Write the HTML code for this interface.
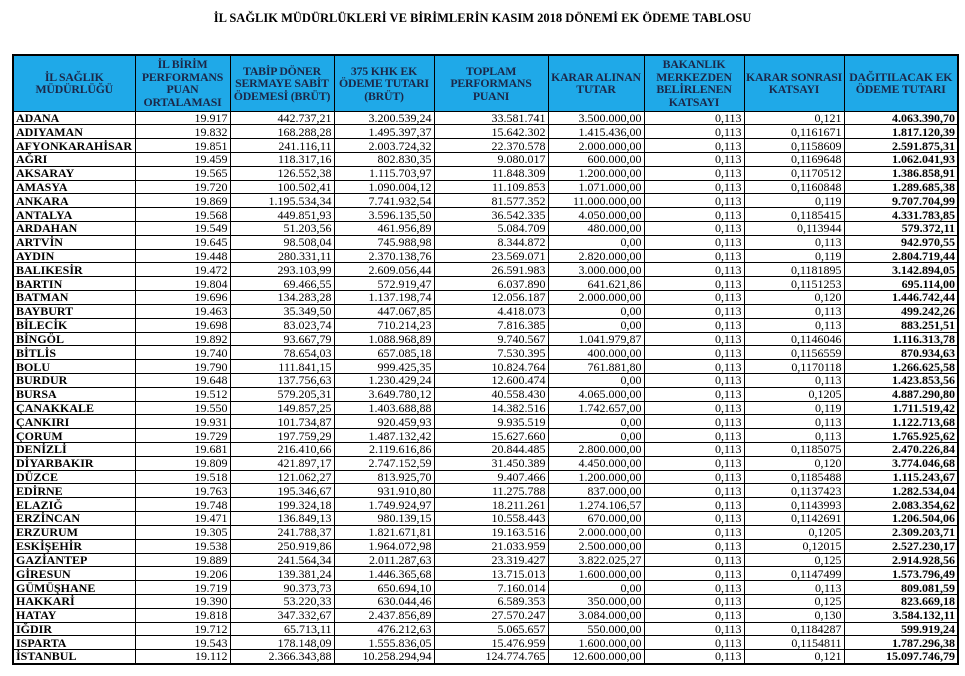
<!DOCTYPE html><html><head><meta charset="utf-8"><style>
body{margin:0;background:#fff;width:965px;height:676px;overflow:hidden;font-family:"Liberation Serif",serif}
h1{position:absolute;left:0;top:11px;width:965px;margin:0;text-align:center;font-size:12.5px;font-weight:bold}
table{position:absolute;left:12px;top:54px;border-collapse:collapse;table-layout:fixed;border:2px solid #000}
td,th{border:1px solid #000;padding:0 2px;font-size:12px;line-height:12px;white-space:nowrap;overflow:hidden}
tr.h{height:56px}
tr{height:13.82px}
th{background:#1fa9e8;color:#1b2748;font-size:11.8px;line-height:12.5px;font-weight:bold;white-space:normal;padding:0;letter-spacing:-0.2px}
td{text-align:right}
td:first-child{text-align:left;font-weight:bold}
td:last-child{font-weight:bold}
</style></head><body>
<h1>İL SAĞLIK MÜDÜRLÜKLERİ VE BİRİMLERİN KASIM 2018 DÖNEMİ EK ÖDEME TABLOSU</h1>
<table>
<colgroup><col style="width:122px"><col style="width:95px"><col style="width:104px"><col style="width:100px"><col style="width:114px"><col style="width:96px"><col style="width:100px"><col style="width:100px"><col style="width:114px"></colgroup>
<tr class="h"><th>İL SAĞLIK MÜDÜRLÜĞÜ</th><th>İL BİRİM PERFORMANS PUAN ORTALAMASI</th><th>TABİP DÖNER SERMAYE SABİT ÖDEMESİ (BRÜT)</th><th>375 KHK EK ÖDEME TUTARI (BRÜT)</th><th>TOPLAM PERFORMANS PUANI</th><th>KARAR ALINAN TUTAR</th><th>BAKANLIK MERKEZDEN BELİRLENEN KATSAYI</th><th><span style="white-space:nowrap">KARAR SONRASI</span><br>KATSAYI</th><th>DAĞITILACAK EK ÖDEME TUTARI</th></tr>
<tr><td>ADANA</td><td>19.917</td><td>442.737,21</td><td>3.200.539,24</td><td>33.581.741</td><td>3.500.000,00</td><td>0,113</td><td>0,121</td><td>4.063.390,70</td></tr>
<tr><td>ADIYAMAN</td><td>19.832</td><td>168.288,28</td><td>1.495.397,37</td><td>15.642.302</td><td>1.415.436,00</td><td>0,113</td><td>0,1161671</td><td>1.817.120,39</td></tr>
<tr><td>AFYONKARAHİSAR</td><td>19.851</td><td>241.116,11</td><td>2.003.724,32</td><td>22.370.578</td><td>2.000.000,00</td><td>0,113</td><td>0,1158609</td><td>2.591.875,31</td></tr>
<tr><td>AĞRI</td><td>19.459</td><td>118.317,16</td><td>802.830,35</td><td>9.080.017</td><td>600.000,00</td><td>0,113</td><td>0,1169648</td><td>1.062.041,93</td></tr>
<tr><td>AKSARAY</td><td>19.565</td><td>126.552,38</td><td>1.115.703,97</td><td>11.848.309</td><td>1.200.000,00</td><td>0,113</td><td>0,1170512</td><td>1.386.858,91</td></tr>
<tr><td>AMASYA</td><td>19.720</td><td>100.502,41</td><td>1.090.004,12</td><td>11.109.853</td><td>1.071.000,00</td><td>0,113</td><td>0,1160848</td><td>1.289.685,38</td></tr>
<tr><td>ANKARA</td><td>19.869</td><td>1.195.534,34</td><td>7.741.932,54</td><td>81.577.352</td><td>11.000.000,00</td><td>0,113</td><td>0,119</td><td>9.707.704,99</td></tr>
<tr><td>ANTALYA</td><td>19.568</td><td>449.851,93</td><td>3.596.135,50</td><td>36.542.335</td><td>4.050.000,00</td><td>0,113</td><td>0,1185415</td><td>4.331.783,85</td></tr>
<tr><td>ARDAHAN</td><td>19.549</td><td>51.203,56</td><td>461.956,89</td><td>5.084.709</td><td>480.000,00</td><td>0,113</td><td>0,113944</td><td>579.372,11</td></tr>
<tr><td>ARTVİN</td><td>19.645</td><td>98.508,04</td><td>745.988,98</td><td>8.344.872</td><td>0,00</td><td>0,113</td><td>0,113</td><td>942.970,55</td></tr>
<tr><td>AYDIN</td><td>19.448</td><td>280.331,11</td><td>2.370.138,76</td><td>23.569.071</td><td>2.820.000,00</td><td>0,113</td><td>0,119</td><td>2.804.719,44</td></tr>
<tr><td>BALIKESİR</td><td>19.472</td><td>293.103,99</td><td>2.609.056,44</td><td>26.591.983</td><td>3.000.000,00</td><td>0,113</td><td>0,1181895</td><td>3.142.894,05</td></tr>
<tr><td>BARTIN</td><td>19.804</td><td>69.466,55</td><td>572.919,47</td><td>6.037.890</td><td>641.621,86</td><td>0,113</td><td>0,1151253</td><td>695.114,00</td></tr>
<tr><td>BATMAN</td><td>19.696</td><td>134.283,28</td><td>1.137.198,74</td><td>12.056.187</td><td>2.000.000,00</td><td>0,113</td><td>0,120</td><td>1.446.742,44</td></tr>
<tr><td>BAYBURT</td><td>19.463</td><td>35.349,50</td><td>447.067,85</td><td>4.418.073</td><td>0,00</td><td>0,113</td><td>0,113</td><td>499.242,26</td></tr>
<tr><td>BİLECİK</td><td>19.698</td><td>83.023,74</td><td>710.214,23</td><td>7.816.385</td><td>0,00</td><td>0,113</td><td>0,113</td><td>883.251,51</td></tr>
<tr><td>BİNGÖL</td><td>19.892</td><td>93.667,79</td><td>1.088.968,89</td><td>9.740.567</td><td>1.041.979,87</td><td>0,113</td><td>0,1146046</td><td>1.116.313,78</td></tr>
<tr><td>BİTLİS</td><td>19.740</td><td>78.654,03</td><td>657.085,18</td><td>7.530.395</td><td>400.000,00</td><td>0,113</td><td>0,1156559</td><td>870.934,63</td></tr>
<tr><td>BOLU</td><td>19.790</td><td>111.841,15</td><td>999.425,35</td><td>10.824.764</td><td>761.881,80</td><td>0,113</td><td>0,1170118</td><td>1.266.625,58</td></tr>
<tr><td>BURDUR</td><td>19.648</td><td>137.756,63</td><td>1.230.429,24</td><td>12.600.474</td><td>0,00</td><td>0,113</td><td>0,113</td><td>1.423.853,56</td></tr>
<tr><td>BURSA</td><td>19.512</td><td>579.205,31</td><td>3.649.780,12</td><td>40.558.430</td><td>4.065.000,00</td><td>0,113</td><td>0,1205</td><td>4.887.290,80</td></tr>
<tr><td>ÇANAKKALE</td><td>19.550</td><td>149.857,25</td><td>1.403.688,88</td><td>14.382.516</td><td>1.742.657,00</td><td>0,113</td><td>0,119</td><td>1.711.519,42</td></tr>
<tr><td>ÇANKIRI</td><td>19.931</td><td>101.734,87</td><td>920.459,93</td><td>9.935.519</td><td>0,00</td><td>0,113</td><td>0,113</td><td>1.122.713,68</td></tr>
<tr><td>ÇORUM</td><td>19.729</td><td>197.759,29</td><td>1.487.132,42</td><td>15.627.660</td><td>0,00</td><td>0,113</td><td>0,113</td><td>1.765.925,62</td></tr>
<tr><td>DENİZLİ</td><td>19.681</td><td>216.410,66</td><td>2.119.616,86</td><td>20.844.485</td><td>2.800.000,00</td><td>0,113</td><td>0,1185075</td><td>2.470.226,84</td></tr>
<tr><td>DİYARBAKIR</td><td>19.809</td><td>421.897,17</td><td>2.747.152,59</td><td>31.450.389</td><td>4.450.000,00</td><td>0,113</td><td>0,120</td><td>3.774.046,68</td></tr>
<tr><td>DÜZCE</td><td>19.518</td><td>121.062,27</td><td>813.925,70</td><td>9.407.466</td><td>1.200.000,00</td><td>0,113</td><td>0,1185488</td><td>1.115.243,67</td></tr>
<tr><td>EDİRNE</td><td>19.763</td><td>195.346,67</td><td>931.910,80</td><td>11.275.788</td><td>837.000,00</td><td>0,113</td><td>0,1137423</td><td>1.282.534,04</td></tr>
<tr><td>ELAZIĞ</td><td>19.748</td><td>199.324,18</td><td>1.749.924,97</td><td>18.211.261</td><td>1.274.106,57</td><td>0,113</td><td>0,1143993</td><td>2.083.354,62</td></tr>
<tr><td>ERZİNCAN</td><td>19.471</td><td>136.849,13</td><td>980.139,15</td><td>10.558.443</td><td>670.000,00</td><td>0,113</td><td>0,1142691</td><td>1.206.504,06</td></tr>
<tr><td>ERZURUM</td><td>19.305</td><td>241.788,37</td><td>1.821.671,81</td><td>19.163.516</td><td>2.000.000,00</td><td>0,113</td><td>0,1205</td><td>2.309.203,71</td></tr>
<tr><td>ESKİŞEHİR</td><td>19.538</td><td>250.919,86</td><td>1.964.072,98</td><td>21.033.959</td><td>2.500.000,00</td><td>0,113</td><td>0,12015</td><td>2.527.230,17</td></tr>
<tr><td>GAZİANTEP</td><td>19.889</td><td>241.564,34</td><td>2.011.287,63</td><td>23.319.427</td><td>3.822.025,27</td><td>0,113</td><td>0,125</td><td>2.914.928,56</td></tr>
<tr><td>GİRESUN</td><td>19.206</td><td>139.381,24</td><td>1.446.365,68</td><td>13.715.013</td><td>1.600.000,00</td><td>0,113</td><td>0,1147499</td><td>1.573.796,49</td></tr>
<tr><td>GÜMÜŞHANE</td><td>19.719</td><td>90.373,73</td><td>650.694,10</td><td>7.160.014</td><td>0,00</td><td>0,113</td><td>0,113</td><td>809.081,59</td></tr>
<tr><td>HAKKARİ</td><td>19.390</td><td>53.220,33</td><td>630.044,46</td><td>6.589.353</td><td>350.000,00</td><td>0,113</td><td>0,125</td><td>823.669,18</td></tr>
<tr><td>HATAY</td><td>19.818</td><td>347.332,67</td><td>2.437.856,89</td><td>27.570.247</td><td>3.084.000,00</td><td>0,113</td><td>0,130</td><td>3.584.132,11</td></tr>
<tr><td>IĞDIR</td><td>19.712</td><td>65.713,11</td><td>476.212,63</td><td>5.065.657</td><td>550.000,00</td><td>0,113</td><td>0,1184287</td><td>599.919,24</td></tr>
<tr><td>ISPARTA</td><td>19.543</td><td>178.148,09</td><td>1.555.836,05</td><td>15.476.959</td><td>1.600.000,00</td><td>0,113</td><td>0,1154811</td><td>1.787.296,38</td></tr>
<tr><td>İSTANBUL</td><td>19.112</td><td>2.366.343,88</td><td>10.258.294,94</td><td>124.774.765</td><td>12.600.000,00</td><td>0,113</td><td>0,121</td><td>15.097.746,79</td></tr>
</table>
</body></html>
